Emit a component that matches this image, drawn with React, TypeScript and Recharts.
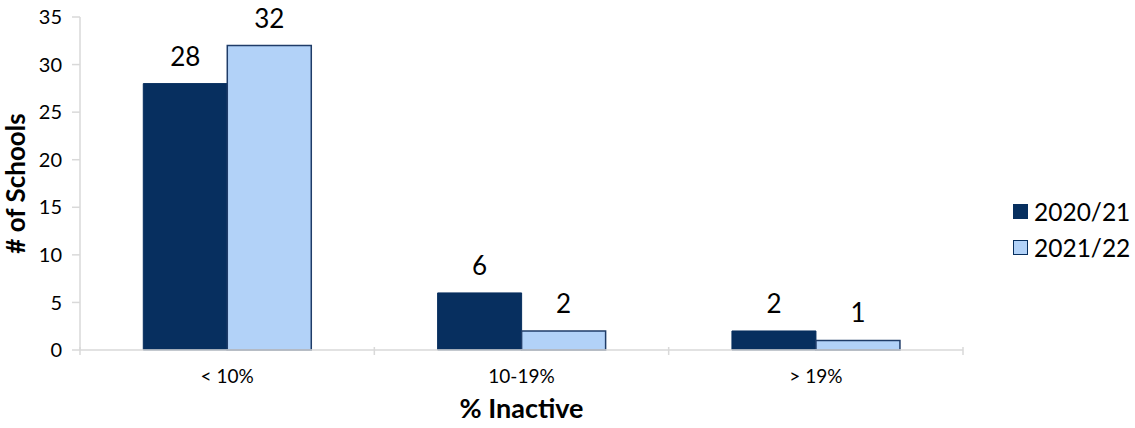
import { BarChart, Bar, XAxis, YAxis, LabelList, Label, Legend } from 'recharts'

const categories = ['< 10%', '10-19%', '> 19%']
const values2020 = [28, 6, 2]
const values2021 = [32, 2, 1]
const yTicks = [0, 5, 10, 15, 20, 25, 30, 35]

const data = categories.map((name, i) => ({
  name,
  y2020: values2020[i],
  y2021: values2021[i],
}))

const FONT = 'Lato, "Open Sans", sans-serif'
const AXIS_COLOR = '#d9d9d9'
const DARK = '#072f5f'
const LIGHT = '#b2d2f8'

// x ticks sit on the category boundaries, not the centres
function BoundaryTick(props: any) {
  const { x, y, payload, index } = props
  const half = payload.offset || 0
  return (
    <g>
      <line x1={x - half} y1={y - 11} x2={x - half} y2={y - 3} stroke={AXIS_COLOR} strokeWidth={1.5} />
      {index === categories.length - 1 && (
        <line x1={x + half} y1={y - 11} x2={x + half} y2={y - 3} stroke={AXIS_COLOR} strokeWidth={1.5} />
      )}
      <text x={x} y={y + 25} textAnchor="middle" fontSize={19} fill="#000" fontFamily={FONT}>
        {payload.value}
      </text>
    </g>
  )
}

function LegendBox() {
  const items = [
    { label: '2020/21', color: DARK },
    { label: '2021/22', color: LIGHT },
  ]
  return (
    <div style={{ fontFamily: FONT }}>
      {items.map((it) => (
        <div key={it.label} style={{ display: 'flex', alignItems: 'center', height: 36 }}>
          <span
            style={{
              width: 13,
              height: 13,
              background: it.color,
              border: `1.5px solid ${DARK}`,
              marginRight: 6,
            }}
          />
          <span style={{ fontSize: 24.5, color: '#000' }}>{it.label}</span>
        </div>
      ))}
    </div>
  )
}

export default function App() {
  return (
    <div style={{ position: 'absolute', left: 0, top: 0, background: '#fff' }}>
      <BarChart
        width={1135}
        height={428}
        data={data}
        margin={{ top: 17, right: 50, bottom: 48, left: 0 }}
        barCategoryGap="21.5%"
        barGap={0}
      >
        <XAxis
          dataKey="name"
          height={30}
          axisLine={{ stroke: AXIS_COLOR, strokeWidth: 1.5 }}
          tickLine={false}
          tick={<BoundaryTick />}
          interval={0}
        >
          <Label
            value="% Inactive"
            position="insideBottom"
            offset={-38}
            style={{ fontFamily: FONT, fontSize: 27, fontWeight: 700, fill: '#000' }}
          />
        </XAxis>
        <YAxis
          width={80}
          domain={[0, 35]}
          ticks={yTicks}
          interval={0}
          axisLine={{ stroke: AXIS_COLOR, strokeWidth: 1.5 }}
          tickLine={{ stroke: AXIS_COLOR, strokeWidth: 1.5 }}
          tickSize={8}
          tickMargin={10}
          tick={{ fontFamily: FONT, fontSize: 20, fill: '#000' }}
        >
          <Label
            value="# of Schools"
            angle={-90}
            position="insideLeft"
            offset={16}
            style={{ fontFamily: FONT, fontSize: 26, fontWeight: 700, fill: '#000', textAnchor: 'middle' }}
          />
        </YAxis>
        <Legend
          layout="vertical"
          verticalAlign="top"
          align="right"
          content={<LegendBox />}
          wrapperStyle={{ left: 1013, top: 193, width: 122 }}
        />
        <Bar dataKey="y2020" name="2020/21" fill={DARK} stroke={DARK} strokeWidth={1} isAnimationActive={false}>
          <LabelList dataKey="y2020" position="top" offset={18} style={{ fontFamily: FONT, fontSize: 26, fill: '#000' }} />
        </Bar>
        <Bar dataKey="y2021" name="2021/22" fill={LIGHT} stroke="#1f3c68" strokeWidth={1.5} isAnimationActive={false}>
          <LabelList dataKey="y2021" position="top" offset={18} style={{ fontFamily: FONT, fontSize: 26, fill: '#000' }} />
        </Bar>
      </BarChart>
    </div>
  )
}
